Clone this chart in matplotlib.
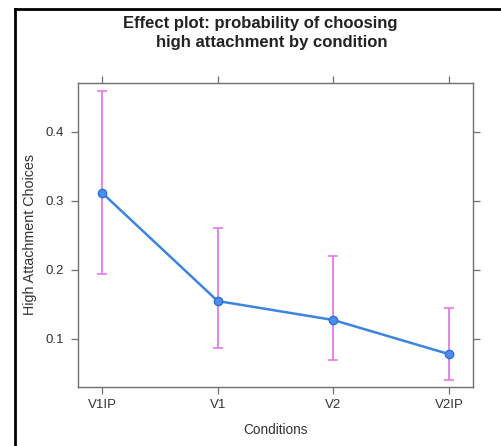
import numpy as np
import matplotlib
matplotlib.use("Agg")
import matplotlib.pyplot as plt
from matplotlib.lines import Line2D

plt.rcParams['font.family'] = ['Liberation Sans', 'DejaVu Sans']

# data
conditions = ["V1IP", "V1", "V2", "V2IP"]
prob = [0.312, 0.155, 0.1275, 0.078]
lower = [0.194, 0.087, 0.070, 0.041]
upper = [0.459, 0.261, 0.220, 0.145]
yticks = [0.1, 0.2, 0.3, 0.4]

fig = plt.figure(figsize=(5.01, 4.46), dpi=100)
ax = fig.add_axes([0.1557, 0.1323, 0.7884, 0.6816])

x = np.arange(len(conditions))
prob = np.array(prob)
err = [prob - np.array(lower), np.array(upper) - prob]

ax.errorbar(x, prob, yerr=err, fmt='none', ecolor='#e47ae8', elinewidth=1.3,
            capsize=3.6, capthick=1.2, zorder=2)
ax.plot(x, prob, '-o', color='#3b84e0', lw=1.8, ms=6,
        markerfacecolor='#4a8ff0', markeredgecolor='#2f6fcf', zorder=3)

ax.set_xlim(-0.207, 3.207)
ax.set_ylim(0.0304, 0.471)
ax.set_xticks(x)
ax.set_xticklabels(conditions)
ax.set_yticks(yticks)
ax.set_yticklabels([str(t) for t in yticks])

for s in ax.spines.values():
    s.set_color('#707070')
    s.set_linewidth(1.0)
ax.tick_params(direction='out', length=5, width=0.9, color='#707070',
               labelcolor='#333333', labelsize=9.5,
               top=True, right=True, labeltop=False, labelright=False)
ax.tick_params(axis='x', pad=4)
ax.tick_params(axis='y', pad=5)

ax.set_xlabel("Conditions", fontsize=9.8, color='#333333', labelpad=8)
ax.set_ylabel("High Attachment Choices", fontsize=10.3, color='#333333', labelpad=6)

fig.text(0.519, 1 - 28 / 446, "Effect plot: probability of choosing",
         ha='center', va='baseline', fontsize=12, fontweight='bold', color='#222222')
fig.text(0.543, 1 - 47.5 / 446, "high attachment by condition",
         ha='center', va='baseline', fontsize=12, fontweight='bold', color='#222222')

# outer frame (left and top only, as in the screenshot)
fx = 14.5 / 501
fy = 1 - 8.5 / 446
fig.add_artist(Line2D([fx, fx], [0, fy], transform=fig.transFigure, color='black', lw=2))
fig.add_artist(Line2D([fx, 1], [fy, fy], transform=fig.transFigure, color='black', lw=2))

fig.savefig("out.png", dpi=100)
